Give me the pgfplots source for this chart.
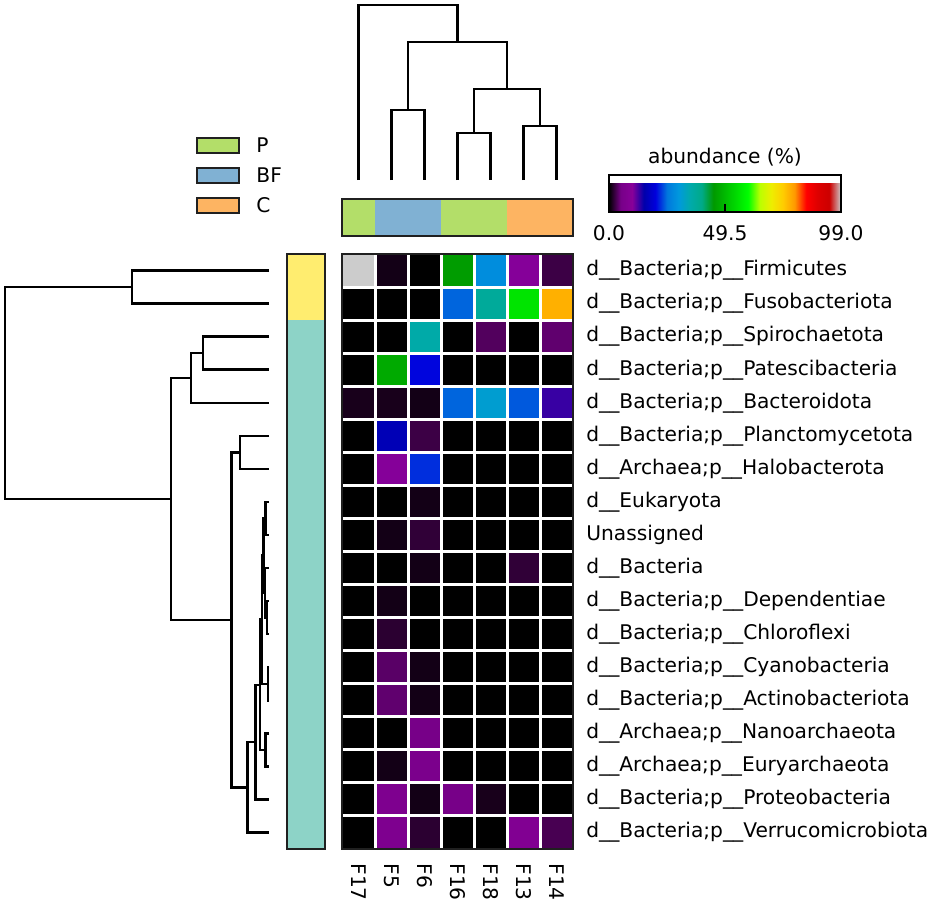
\documentclass[border=0pt]{standalone}
\usepackage{fontspec}
\setmainfont{DejaVu Sans}
\usepackage{pgfplots}
\pgfplotsset{compat=1.18}
\usetikzlibrary{calc}
\definecolor{setyellow}{HTML}{FFED6F}
\definecolor{setteal}{HTML}{8DD3C7}
\definecolor{setgreen}{HTML}{B3DE69}
\definecolor{setblue}{HTML}{80B1D3}
\definecolor{setorange}{HTML}{FDB462}
\definecolor{frame}{HTML}{202020}
\pgfplotsset{
  colormap={nipy}{
    rgb=(0,0,0) rgb=(0.4667,0,0.5333) rgb=(0.5333,0,0.6) rgb=(0,0,0.6667)
    rgb=(0,0,0.8667) rgb=(0,0.4667,0.8667) rgb=(0,0.6,0.8667) rgb=(0,0.6667,0.6667)
    rgb=(0,0.6667,0.5333) rgb=(0,0.6,0) rgb=(0,0.7333,0) rgb=(0,0.8667,0)
    rgb=(0,1,0) rgb=(0.7333,1,0) rgb=(0.9333,0.9333,0) rgb=(1,0.8,0)
    rgb=(1,0.6,0) rgb=(1,0,0) rgb=(0.8667,0,0) rgb=(0.8,0,0) rgb=(0.8,0.8,0.8)},
  dend/.style={black, line width=1.25pt, no marks, line join=miter},
}
\newcommand{\myfont}{\fontsize{10.1}{12}\selectfont}
\begin{document}
\myfont
\begin{tikzpicture}[font=\myfont]
\useasboundingbox (0,0) rectangle (467.5pt,-451pt);

% left dendrogram
\begin{axis}[at={(2.5pt,-424.5pt)}, anchor=south west, scale only axis,
  width=132pt, height=297.5pt, hide axis, clip=false,
  xmin=0, xmax=264, x dir=reverse, ymin=-0.5, ymax=17.5, y dir=reverse]
\addplot[dend] coordinates {(0,0)(137,0)(137,1)(0,1)};
\addplot[dend] coordinates {(0,2)(66,2)(66,3)(0,3)};
\addplot[dend] coordinates {(66,2.5)(78,2.5)(78,4)(0,4)};
\addplot[dend] coordinates {(0,5)(29,5)(29,6)(0,6)};
\addplot[dend] coordinates {(0,7)(3.3,7)(3.3,8)(0,8)};
\addplot[dend] coordinates {(0,10)(2,10)(2,11)(0,11)};
\addplot[dend] coordinates {(0,9)(4,9)(4,10.5)(2,10.5)};
\addplot[dend] coordinates {(3.3,7.5)(5.5,7.5)(5.5,9.75)(4,9.75)};
\addplot[dend] coordinates {(0,12)(1,12)(1,13)(0,13)};
\addplot[dend] coordinates {(5.5,8.625)(7,8.625)(7,12.5)(1,12.5)};
\addplot[dend] coordinates {(0,14)(3.3,14)(3.3,15)(0,15)};
\addplot[dend] coordinates {(7,10.5625)(9,10.5625)(9,14.5)(3.3,14.5)};
\addplot[dend] coordinates {(9,12.531)(13.3,12.531)(13.3,16)(0,16)};
\addplot[dend] coordinates {(13.3,14.266)(21.3,14.266)(21.3,17)(0,17)};
\addplot[dend] coordinates {(29,5.5)(37.3,5.5)(37.3,15.633)(21.3,15.633)};
\addplot[dend] coordinates {(78,3.25)(98,3.25)(98,10.566)(37.3,10.566)};
\addplot[dend] coordinates {(137,0.5)(264,0.5)(264,6.908)(98,6.908)};
\end{axis}

% row colour bar
\begin{axis}[at={(143.5pt,-424.5pt)}, anchor=south west, scale only axis,
  width=19pt, height=297.5pt, xmin=0, xmax=1, ymin=-0.5, ymax=17.5, y dir=reverse,
  ticks=none, axis on top, axis line style={frame, line width=1.25pt}]
\addplot[fill=setyellow, draw=none] coordinates {(0,-0.5)(1,-0.5)(1,1.5)(0,1.5)} --cycle;
\addplot[fill=setteal, draw=none] coordinates {(0,1.5)(1,1.5)(1,17.5)(0,17.5)} --cycle;
\end{axis}

% top dendrogram
\begin{axis}[at={(171pt,-90pt)}, anchor=south west, scale only axis,
  width=115.5pt, height=87.5pt, hide axis, clip=false,
  xmin=-0.5, xmax=6.5, ymin=0, ymax=175]
\addplot[dend] coordinates {(1,0)(1,70)(2,70)(2,0)};
\addplot[dend] coordinates {(3,0)(3,47)(4,47)(4,0)};
\addplot[dend] coordinates {(5,0)(5,54)(6,54)(6,0)};
\addplot[dend] coordinates {(3.5,47)(3.5,91)(5.5,91)(5.5,54)};
\addplot[dend] coordinates {(1.5,70)(1.5,138)(4.5,138)(4.5,91)};
\addplot[dend] coordinates {(0,0)(0,175)(3,175)(3,138)};
\end{axis}

% column colour bar
\begin{axis}[at={(171pt,-118pt)}, anchor=south west, scale only axis,
  width=115.5pt, height=18.5pt, xmin=-0.5, xmax=6.5, ymin=0, ymax=1,
  ticks=none, axis on top, axis line style={frame, line width=1.25pt}]
\addplot[fill=setgreen, draw=none] coordinates {(-0.5,0)(0.5,0)(0.5,1)(-0.5,1)} --cycle;
\addplot[fill=setblue, draw=none] coordinates {(0.5,0)(2.5,0)(2.5,1)(0.5,1)} --cycle;
\addplot[fill=setgreen, draw=none] coordinates {(2.5,0)(4.5,0)(4.5,1)(2.5,1)} --cycle;
\addplot[fill=setorange, draw=none] coordinates {(4.5,0)(6.5,0)(6.5,1)(4.5,1)} --cycle;
\end{axis}

% heatmap
\begin{axis}[at={(171pt,-424.5pt)}, anchor=south west, scale only axis,
  width=115.5pt, height=297.5pt,
  xmin=-0.5, xmax=6.5, ymin=-0.5, ymax=17.5, y dir=reverse, enlargelimits=false,
  axis on top, axis line style={frame, line width=1.25pt},
  xtick={0,...,6}, xticklabels={F17,F5,F6,F16,F18,F13,F14},
  xticklabel style={rotate=-90, anchor=west, inner sep=0pt, font=\myfont},
  xticklabel shift=7pt,
  ytick={0,...,17}, yticklabel pos=right,
  yticklabel style={anchor=west, inner sep=0pt, font=\myfont},
  yticklabel shift=6.5pt,
  yticklabels={d\_\_Bacteria;p\_\_Firmicutes, d\_\_Bacteria;p\_\_Fusobacteriota,
    d\_\_Bacteria;p\_\_Spirochaetota, d\_\_Bacteria;p\_\_Patescibacteria,
    d\_\_Bacteria;p\_\_Bacteroidota, d\_\_Bacteria;p\_\_Planctomycetota,
    d\_\_Archaea;p\_\_Halobacterota, d\_\_Eukaryota, Unassigned, d\_\_Bacteria,
    d\_\_Bacteria;p\_\_Dependentiae, d\_\_Bacteria;p\_\_Chloroflexi,
    d\_\_Bacteria;p\_\_Cyanobacteria, d\_\_Bacteria;p\_\_Actinobacteriota,
    d\_\_Archaea;p\_\_Nanoarchaeota, d\_\_Archaea;p\_\_Euryarchaeota,
    d\_\_Bacteria;p\_\_Proteobacteria, d\_\_Bacteria;p\_\_Verrucomicrobiota},
  major tick length=0pt,
  minor xtick={0.5,1.5,...,5.5}, minor ytick={0.5,1.5,...,16.5},
  minor tick length=0pt,
  xminorgrids, yminorgrids, minor grid style={white, line width=1.5pt},
  colormap name=nipy, point meta min=0, point meta max=99,
  colorbar horizontal,
  colorbar style={at={($(parent axis.north east)+(18pt,29.5pt)$)}, anchor=south west,
    scale only axis, width=116pt, height=18.5pt,
    axis line style={black, line width=1.25pt},
    xtick={0,49.5,99}, xticklabels={0.0,49.5,99.0},
    xtick pos=left, xtick align=inside, major tick length=4pt,
    xtick style={black, line width=0.8pt},
    xticklabel style={font=\myfont, yshift=-3pt},
    ytick=\empty,
    title={abundance (\%)}, title style={font=\myfont, yshift=-5pt}},
]
\addplot[matrix plot*, mesh/cols=7, mesh/ordering=x varies, point meta=explicit]
table[meta=c] {
x y c
0 0 99
1 0 0.8
2 0 0
3 0 45
4 0 28
5 0 10
6 0 2.5
0 1 0
1 1 0
2 1 0
3 1 24
4 1 37
5 1 55.5
6 1 77
0 2 0
1 2 0
2 2 35
3 2 0
4 2 3.4
5 2 0
6 2 4
0 3 0
1 3 47
2 3 20
3 3 0
4 3 0
5 3 0
6 3 0
0 4 1
1 4 1
2 4 0.8
3 4 24
4 4 31
5 4 23.5
6 4 12.8
0 5 0
1 5 16
2 5 2.5
3 5 0
4 5 0
5 5 0
6 5 0
0 6 0
1 6 10
2 6 21.7
3 6 0
4 6 0
5 6 0
6 6 0
0 7 0
1 7 0
2 7 0.8
3 7 0
4 7 0
5 7 0
6 7 0
0 8 0
1 8 0.8
2 8 2
3 8 0
4 8 0
5 8 0
6 8 0
0 9 0
1 9 0
2 9 0.8
3 9 0
4 9 0
5 9 2
6 9 0
0 10 0
1 10 0.8
2 10 0
3 10 0
4 10 0
5 10 0
6 10 0
0 11 0
1 11 1.8
2 11 0
3 11 0
4 11 0
5 11 0
6 11 0
0 12 0
1 12 3.7
2 12 0.8
3 12 0
4 12 0
5 12 0
6 12 0
0 13 0
1 13 4
2 13 0.8
3 13 0
4 13 0
5 13 0
6 13 0
0 14 0
1 14 0
2 14 5
3 14 0
4 14 0
5 14 0
6 14 0
0 15 0
1 15 0.8
2 15 6
3 15 0
4 15 0
5 15 0
6 15 0
0 16 0
1 16 7
2 16 0.8
3 16 5
4 16 1
5 16 0
6 16 0
0 17 0
1 17 7
2 17 1.8
3 17 0
4 17 0
5 17 8
6 17 3
};
\end{axis}

% group legend
\foreach \yy/\cc/\tt in {-69/setgreen/P, -84/setblue/BF, -99/setorange/C}{
  \draw[fill=\cc, draw=frame, line width=1pt] (98.5pt,\yy pt) rectangle (119.5pt,\yy pt-7.5pt);
  \node[anchor=west, inner sep=0pt] at (128pt,\yy pt-3.75pt) {\tt};
}
\end{tikzpicture}
\end{document}
